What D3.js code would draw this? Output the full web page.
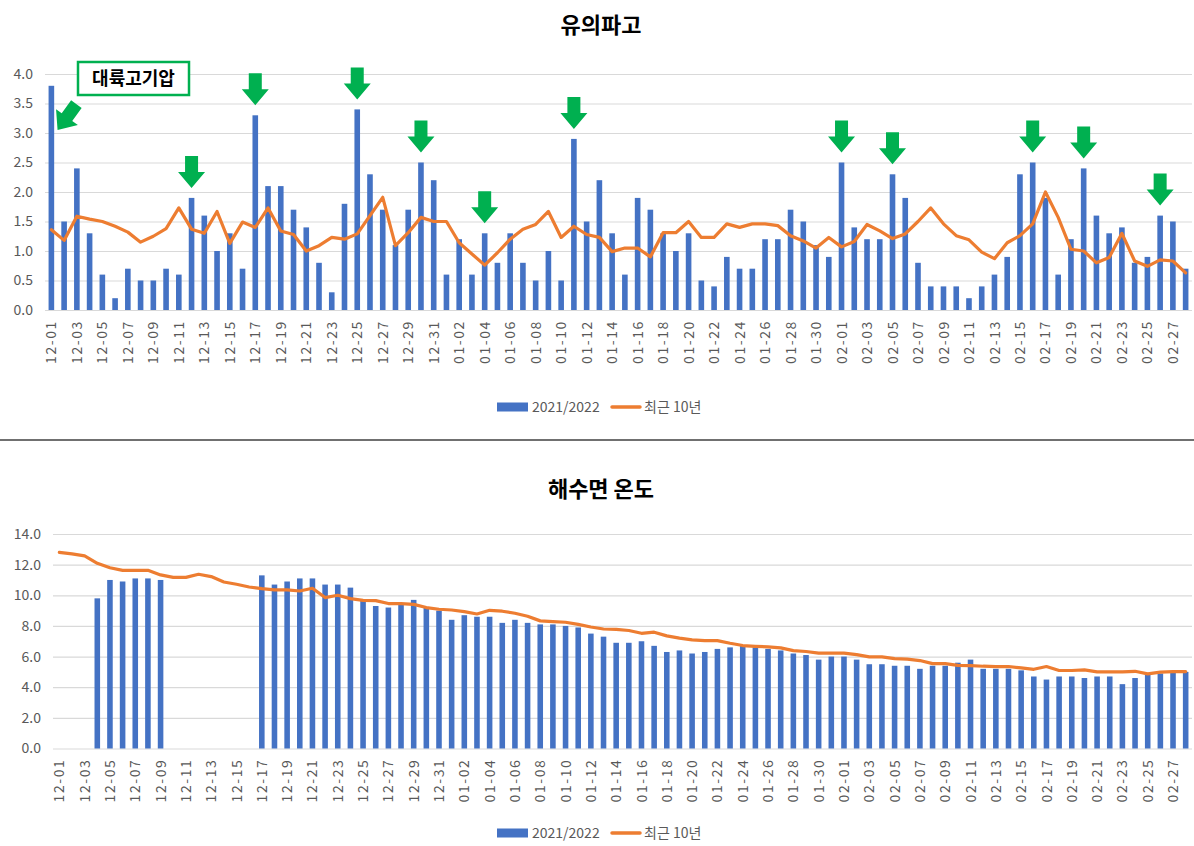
<!DOCTYPE html>
<html>
<head>
<meta charset="utf-8">
<script src="https://cdn.jsdelivr.net/npm/d3@7"></script>
<style>
  body { margin: 0; background: #fff; }
  svg { display: block; font-family: "Noto Sans CJK KR", "Noto Sans", sans-serif; }
</style>
</head>
<body>
<svg id="chart" width="1194" height="846"></svg>
<script>
// categories: every day from Dec 1 to Feb 28
const months = [["12", 31], ["01", 31], ["02", 28]]
const dates = months.flatMap(([m, n]) => d3.range(1, n + 1).map(d => m + "-" + String(d).padStart(2, "0")))
const tickDates = dates.filter((d, i) => i % 2 === 0)

// 유의파고 (m)
const waveBars = [
    3.8, 1.5, 2.4, 1.3, 0.6, 0.2, 0.7, 0.5, 0.5, 0.7, 0.6, 1.9, 1.6, 1.0, 1.3, 0.7, 3.3, 2.1, 2.1, 1.7,
    1.4, 0.8, 0.3, 1.8, 3.4, 2.3, 1.7, 1.1, 1.7, 2.5, 2.2,
    0.6, 1.2, 0.6, 1.3, 0.8, 1.3, 0.8, 0.5, 1.0, 0.5, 2.9, 1.5, 2.2, 1.3, 0.6, 1.9, 1.7, 1.3, 1.0, 1.3,
    0.5, 0.4, 0.9, 0.7, 0.7, 1.2, 1.2, 1.7, 1.5, 1.1, 0.9,
    2.5, 1.4, 1.2, 1.2, 2.3, 1.9, 0.8, 0.4, 0.4, 0.4, 0.2, 0.4, 0.6, 0.9, 2.3, 2.5, 1.9, 0.6, 1.2, 2.4,
    1.6, 1.3, 1.4, 0.8, 0.9, 1.6, 1.5, 0.7
]
const waveAvg = [
    1.36, 1.18, 1.59, 1.54, 1.5, 1.42, 1.32, 1.15, 1.25, 1.38, 1.73, 1.37, 1.3, 1.67, 1.13, 1.49, 1.4, 1.73, 1.34, 1.28,
    1.0, 1.09, 1.23, 1.2, 1.29, 1.6, 1.91, 1.09, 1.31, 1.57, 1.5,
    1.5, 1.14, 0.95, 0.76, 0.97, 1.2, 1.37, 1.45, 1.67, 1.23, 1.42, 1.28, 1.23, 0.99, 1.05, 1.05, 0.9, 1.31, 1.31, 1.5,
    1.23, 1.23, 1.46, 1.4, 1.46, 1.46, 1.43, 1.26, 1.17, 1.05, 1.23,
    1.07, 1.16, 1.45, 1.34, 1.21, 1.29, 1.5, 1.73, 1.46, 1.26, 1.19, 0.98, 0.87, 1.14, 1.26, 1.46, 2.0, 1.57, 1.03, 1.0,
    0.8, 0.89, 1.3, 0.83, 0.74, 0.85, 0.83, 0.63
]
const waveTicks = [0, 0.5, 1, 1.5, 2, 2.5, 3, 3.5, 4]

// 해수면 온도 (°C), null = 결측
const sstBars = [
    null, null, null, 9.8, 11.0, 10.9, 11.1, 11.1, 11.0, null, null, null, null, null, null, null,
    11.3, 10.7, 10.9, 11.1, 11.1, 10.7, 10.7, 10.5, 9.7, 9.3, 9.2, 9.4, 9.7, 9.2, 9.0,
    8.4, 8.7, 8.6, 8.6, 8.2, 8.4, 8.2, 8.1, 8.1, 8.0, 7.9, 7.5, 7.3, 6.9, 6.9, 7.0, 6.7, 6.3, 6.4, 6.2,
    6.3, 6.5, 6.6, 6.7, 6.6, 6.5, 6.4, 6.2, 6.1, 5.8, 6.0,
    6.0, 5.8, 5.5, 5.5, 5.4, 5.4, 5.2, 5.4, 5.4, 5.6, 5.8, 5.2, 5.2, 5.2, 5.1, 4.7, 4.5, 4.7, 4.7, 4.6,
    4.7, 4.7, 4.2, 4.6, 4.9, 4.9, 5.0, 5.0
]
const sstAvg = [
    12.8, 12.7, 12.57, 12.09, 11.8, 11.63, 11.63, 11.63, 11.33, 11.17, 11.17, 11.37, 11.22, 10.87, 10.72, 10.54,
    10.43, 10.35, 10.35, 10.28, 10.46, 9.85, 10.0, 9.78, 9.67, 9.65, 9.46, 9.46, 9.41, 9.2, 9.09,
    9.04, 8.93, 8.78, 9.02, 8.96, 8.83, 8.63, 8.33, 8.28, 8.24, 8.1, 7.93, 7.8, 7.78, 7.7, 7.52, 7.59, 7.35, 7.2, 7.09,
    7.04, 7.04, 6.87, 6.72, 6.67, 6.63, 6.57, 6.39, 6.33, 6.22, 6.22,
    6.22, 6.13, 5.98, 5.98, 5.87, 5.83, 5.74, 5.54, 5.54, 5.43, 5.41, 5.37, 5.35, 5.35, 5.26, 5.17, 5.35, 5.09, 5.09, 5.13,
    5.0, 5.0, 5.0, 5.04, 4.87, 4.98, 5.02, 5.02
]
const sstTicks = [0, 2, 4, 6, 8, 10, 12, 14]

// 강한 파고 표시 (화살표가 가리키는 날)
const arrowDates = ["12-12", "12-17", "12-25", "12-30", "01-04", "01-11", "02-01", "02-05", "02-16", "02-20", "02-26"]

const seriesNames = ["2021/2022", "최근 10년"]
const barColor = "#4472c4"
const lineColor = "#ed7d31"
const arrowColor = "#00b050"
const textColor = "#595959"

const svg = d3.select("#chart")

function drawPanel(opts) {
    const {title, titleY, bars, avg, ticks, yMax, top, bottom, left, legendY} = opts
    const x = d3.scaleBand().domain(dates).range([left, 1192]).paddingInner(0.56).paddingOuter(0.28)
    const y = d3.scaleLinear().domain([0, yMax]).range([bottom, top])
    const g = svg.append("g")

    g.append("text")
        .attr("x", 601).attr("y", titleY)
        .attr("text-anchor", "middle")
        .attr("font-size", 22).attr("font-weight", "bold").attr("fill", "#000")
        .text(title)

    // gridlines + y labels
    const yAxis = g.append("g")
        .attr("transform", `translate(${left},0)`)
        .call(d3.axisLeft(y).tickValues(ticks).tickSize(-(1192 - left)).tickFormat(d3.format(".1f")))
    yAxis.select(".domain").remove()
    yAxis.selectAll("line").attr("stroke", "#d9d9d9").attr("stroke-width", 1.2)
    yAxis.selectAll("text")
        .attr("x", -12).attr("fill", textColor)
        .attr("font-size", 14).attr("font-family", "'Noto Sans CJK KR', sans-serif")

    // x labels, rotated
    const xAxis = g.append("g")
        .attr("transform", `translate(0,${bottom})`)
        .call(d3.axisBottom(x).tickValues(tickDates).tickSize(0))
    xAxis.select(".domain").remove()
    xAxis.selectAll("text")
        .attr("transform", "rotate(-90)")
        .attr("x", -10).attr("y", 0).attr("dy", "0.36em")
        .attr("text-anchor", "end")
        .attr("fill", textColor).attr("font-size", 14)
        .attr("letter-spacing", 1.6)
        .attr("font-family", "'Noto Sans CJK KR', sans-serif")

    g.append("g").selectAll("rect")
        .data(dates.map((d, i) => ({date: d, v: bars[i]})).filter(d => d.v != null))
        .join("rect")
        .attr("x", d => x(d.date))
        .attr("width", x.bandwidth())
        .attr("y", d => y(d.v))
        .attr("height", d => y(0) - y(d.v))
        .attr("fill", barColor)

    g.append("path")
        .datum(dates.map((d, i) => ({date: d, v: avg[i]})))
        .attr("fill", "none")
        .attr("stroke", lineColor)
        .attr("stroke-width", 3.2)
        .attr("stroke-linejoin", "round")
        .attr("stroke-linecap", "round")
        .attr("d", d3.line().x(d => x(d.date) + x.bandwidth() / 2).y(d => y(d.v)))

    // legend
    const lg = g.append("g").attr("transform", `translate(0,${legendY})`)
    lg.append("rect").attr("x", 497).attr("y", -4.5).attr("width", 31).attr("height", 9).attr("fill", barColor)
    lg.append("text").attr("x", 532).attr("y", 0).attr("dy", "0.36em")
        .attr("font-size", 14).attr("fill", textColor).text(seriesNames[0])
    lg.append("line").attr("x1", 612).attr("x2", 640).attr("y1", 0).attr("y2", 0)
        .attr("stroke", lineColor).attr("stroke-width", 3.5).attr("stroke-linecap", "round")
    lg.append("text").attr("x", 644).attr("y", 0).attr("dy", "0.36em")
        .attr("font-size", 14).attr("fill", textColor).text(seriesNames[1])

    return {x, y, g}
}

const wave = drawPanel({
    title: "유의파고", titleY: 33, bars: waveBars, avg: waveAvg, ticks: waveTicks, yMax: 4,
    top: 74, bottom: 310, left: 45, legendY: 407
})

drawPanel({
    title: "해수면 온도", titleY: 497, bars: sstBars, avg: sstAvg, ticks: sstTicks, yMax: 14,
    top: 534, bottom: 748.5, left: 53, legendY: 833
})

// separator between the two charts
svg.append("line")
    .attr("x1", 0).attr("x2", 1194).attr("y1", 440).attr("y2", 440)
    .attr("stroke", "#404040").attr("stroke-width", 1.5)

// green arrows
const arrowPath = "M-6.5,-32 L6.5,-32 L6.5,-16 L13.5,-16 L0,0 L-13.5,-16 L-6.5,-16 Z"
wave.g.append("g").selectAll("path")
    .data(arrowDates)
    .join("path")
    .attr("d", arrowPath)
    .attr("fill", arrowColor)
    .attr("transform", d => {
        const v = waveBars[dates.indexOf(d)]
        return `translate(${wave.x(d) + wave.x.bandwidth() / 2},${wave.y(v) - 10})`
    })

// diagonal arrow towards the first bar
wave.g.append("path")
    .attr("d", arrowPath)
    .attr("fill", arrowColor)
    .attr("transform", `translate(${wave.x("12-01") + 9},${wave.y(3.05)}) rotate(36)`)

// label box
const box = wave.g.append("g")
box.append("rect")
    .attr("x", 78).attr("y", 62).attr("width", 111).attr("height", 33)
    .attr("fill", "#fff").attr("stroke", arrowColor).attr("stroke-width", 2.5)
box.append("text")
    .attr("x", 133.5).attr("y", 78.5).attr("dy", "0.36em")
    .attr("text-anchor", "middle")
    .attr("font-size", 18).attr("font-weight", "bold").attr("fill", "#000")
    .text("대륙고기압")
</script>
</body>
</html>
